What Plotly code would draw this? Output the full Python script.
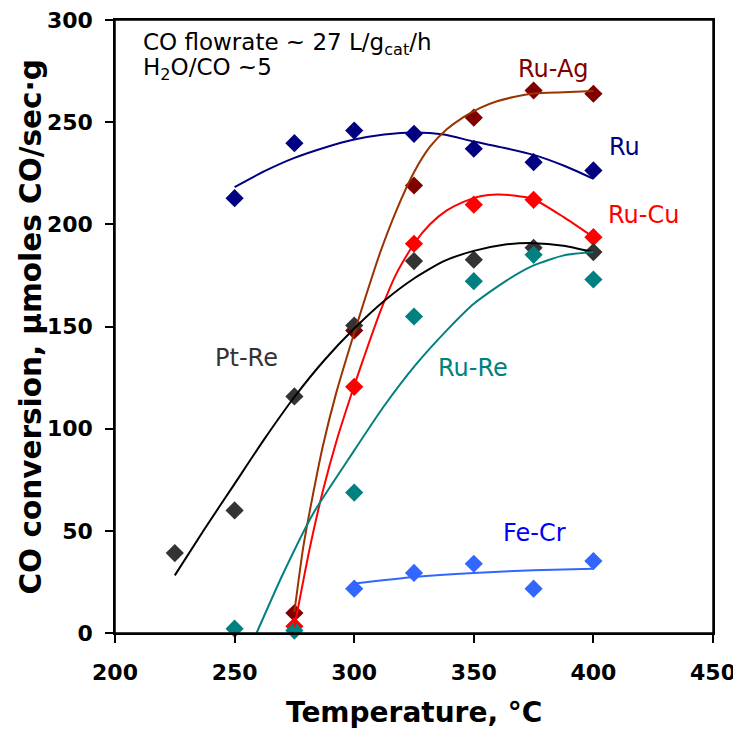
import plotly.graph_objects as go

# ---- measured data points ----
ru_x = [250, 275, 300, 325, 350, 375, 400]
ru_y = [212.8, 239.7, 245.9, 244.3, 237.0, 230.4, 226.4]

ruag_x = [275, 300, 325, 350, 375, 400]
ruag_y = [9.8, 148.1, 219.0, 252.2, 265.5, 263.9]

rucu_x = [275, 300, 325, 350, 375, 400]
rucu_y = [3.3, 120.5, 190.5, 209.6, 212.0, 193.7]

ptre_x = [225, 250, 275, 300, 325, 350, 375, 400]
ptre_y = [39.1, 60.0, 115.8, 150.5, 182.0, 182.7, 188.5, 186.4]

rure_x = [250, 275, 300, 325, 350, 375, 400]
rure_y = [2.1, 1.2, 68.7, 154.9, 172.2, 185.1, 173.0]

fecr_x = [300, 325, 350, 375, 400]
fecr_y = [21.7, 29.4, 33.9, 21.7, 35.2]

# ---- trend curves ----
ru_fit_x = [250, 262.5, 275, 287.5, 300, 312.5, 325, 337.5, 350, 362.5, 375, 387.5, 400]
ru_fit_y = [218.2, 226.0, 232.5, 237.5, 241.5, 244.0, 245.0, 244.0, 240.5, 237.5, 234.0, 228.8, 222.3]

ruag_fit_x = [275, 278.7, 282.8, 287, 292.6, 298.2, 303.8, 310.8, 317.7, 325, 331.7, 338.7, 345.7,
              352.7, 359.7, 366.7, 375, 387.6, 400]
ruag_fit_y = [10.3, 42.0, 68.0, 92.0, 118.0, 140.0, 161.0, 186.0, 207.0, 225.5, 238.0, 246.5, 252.5,
              257.0, 260.2, 262.3, 264.0, 264.6, 265.2]

rucu_fit_x = [275, 281.5, 287, 292.6, 300, 303.8, 310.8, 317.7, 325, 331.7, 338.7, 345.7, 352.7,
              359.7, 366.7, 375, 387.6, 400]
rucu_fit_y = [3.0, 42.0, 70.0, 94.0, 121.0, 134.0, 157.0, 176.0, 190.5, 200.0, 206.8, 211.0, 213.7,
              214.6, 214.1, 212.3, 203.5, 193.7]

ptre_fit_x = [225, 237.5, 250, 262.5, 275, 287.5, 300, 312.5, 325, 337.5, 350, 362.5, 375, 387.5, 400]
ptre_fit_y = [28.2, 51.0, 73.0, 95.0, 115.5, 133.5, 149.0, 162.5, 173.5, 182.0, 187.0, 190.0, 190.8,
              189.5, 186.4]

rure_fit_x = [259.2, 270.3, 282.8, 298.2, 312.2, 326.1, 338.7, 350, 363.8, 375, 387.6, 400]
rure_fit_y = [0.0, 29.1, 58.4, 86.1, 110.6, 131.8, 148.1, 161.1, 172.6, 179.9, 184.8, 186.4]

fecr_fit_x = [300, 325, 350, 375, 400]
fecr_fit_y = [24.2, 27.4, 29.4, 30.7, 31.5]

x_ticks = [200, 250, 300, 350, 400, 450]
y_ticks = [0, 50, 100, 150, 200, 250, 300]

series = [
    ("Ru", ru_x, ru_y, ru_fit_x, ru_fit_y, "#000080", "#000080"),
    ("Ru-Ag", ruag_x, ruag_y, ruag_fit_x, ruag_fit_y, "#800000", "#993300"),
    ("Ru-Cu", rucu_x, rucu_y, rucu_fit_x, rucu_fit_y, "#FF0000", "#FF0000"),
    ("Pt-Re", ptre_x, ptre_y, ptre_fit_x, ptre_fit_y, "#333333", "#000000"),
    ("Ru-Re", rure_x, rure_y, rure_fit_x, rure_fit_y, "#008080", "#008080"),
    ("Fe-Cr", fecr_x, fecr_y, fecr_fit_x, fecr_fit_y, "#3366FF", "#3366FF"),
]

fig = go.Figure()
for name, xs, ys, fx, fy, mcol, lcol in series:
    fig.add_trace(go.Scatter(x=xs, y=ys, mode="markers", name=name,
                             marker=dict(symbol="diamond", size=14, color=mcol, line=dict(width=0)),
                             showlegend=False, cliponaxis=False))
for name, xs, ys, fx, fy, mcol, lcol in series:
    fig.add_trace(go.Scatter(x=fx, y=fy, mode="lines", name=name + " fit",
                             line=dict(color=lcol, width=2, shape="spline", smoothing=0.6),
                             showlegend=False))

labels = [
    ("Ru-Ag", 367.7, 276.2, "#800000"),
    ("Ru", 405.6, 237.8, "#000080"),
    ("Ru-Cu", 405.3, 204.4, "#FF0000"),
    ("Pt-Re", 240.8, 134.4, "#333333"),
    ("Ru-Re", 334.2, 129.5, "#008080"),
    ("Fe-Cr", 361.4, 48.8, "#0000FF"),
]
for txt, lx, ly, col in labels:
    fig.add_annotation(x=lx, y=ly, text=txt, showarrow=False, xanchor="left", yanchor="middle",
                       font=dict(family="DejaVu Sans", size=24, color=col))

fig.add_annotation(x=211, y=288.5, text="CO flowrate ~ 27 L/g<sub>cat</sub>/h", showarrow=False,
                   xanchor="left", yanchor="middle", font=dict(family="DejaVu Sans", size=23, color="black"))
fig.add_annotation(x=211, y=275.8, text="H<sub>2</sub>O/CO ~5", showarrow=False,
                   xanchor="left", yanchor="middle", font=dict(family="DejaVu Sans", size=23, color="black"))

# axis titles
fig.add_annotation(xref="paper", yref="paper", x=0.5, y=-0.129, text="Temperature, °C",
                   showarrow=False, xanchor="center", yanchor="middle",
                   font=dict(family="DejaVu Sans", size=28, color="black", weight="bold"))
fig.add_annotation(xref="paper", yref="paper", x=-0.142, y=0.5, text="CO conversion, μmoles CO/sec·g",
                   showarrow=False, xanchor="center", yanchor="middle", textangle=-90,
                   font=dict(family="DejaVu Sans", size=29.5, color="black", weight="bold"))

# plot frame
fig.add_shape(type="rect", xref="paper", yref="paper", x0=0, y0=0, x1=1, y1=1,
              line=dict(color="black", width=1.5), fillcolor="rgba(0,0,0,0)", layer="above")

axis_common = dict(showgrid=False, zeroline=False, showline=True, linecolor="black", linewidth=1.5,
                   mirror=True, ticks="outside", ticklen=8, tickwidth=1.5, tickcolor="black",
                   automargin=False, ticklabeloverflow="allow",
                   tickfont=dict(family="DejaVu Sans", size=22, color="black", weight="bold"))

fig.update_layout(
    width=741, height=738,
    margin=dict(l=107, r=36, t=12, b=113),
    paper_bgcolor="white", plot_bgcolor="white",
    xaxis=dict(range=[200, 450], tickvals=x_ticks, ticklabelstandoff=11, **axis_common),
    yaxis=dict(range=[0, 300], tickvals=y_ticks, ticklabelstandoff=8, **axis_common),
)

fig.write_html("out.html")
